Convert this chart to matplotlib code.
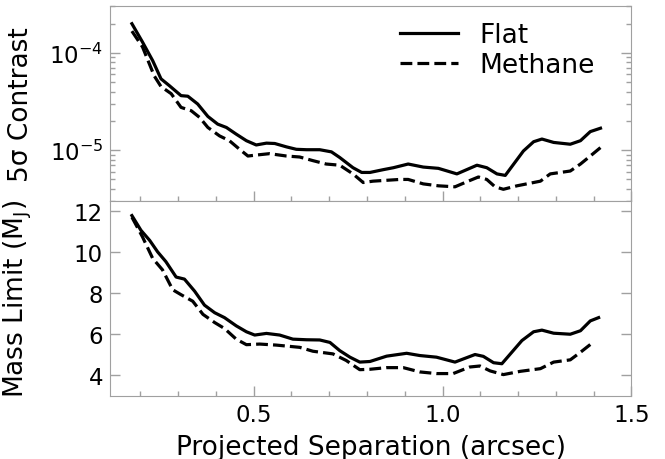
import matplotlib
matplotlib.use("Agg")
import matplotlib.pyplot as plt
from matplotlib.ticker import MultipleLocator, LogLocator, NullFormatter

# contrast curves (top panel)
sep_flat_c = [0.178, 0.206, 0.233, 0.255, 0.277, 0.308, 0.326, 0.352, 0.379, 0.405,
              0.428, 0.454, 0.481, 0.507, 0.534, 0.556, 0.587, 0.613, 0.640, 0.675,
              0.706, 0.728, 0.763, 0.786, 0.808, 0.843, 0.870, 0.909, 0.949, 0.989,
              1.038, 1.091, 1.117, 1.144, 1.166, 1.214, 1.241, 1.263, 1.294, 1.338,
              1.365, 1.391, 1.418]
flat_contrast = [1.99e-4, 1.29e-4, 8.3e-5, 5.4e-5, 4.6e-5, 3.63e-5, 3.58e-5, 2.98e-5, 2.22e-5, 1.85e-5,
                 1.71e-5, 1.46e-5, 1.25e-5, 1.13e-5, 1.18e-5, 1.17e-5, 1.08e-5, 1.02e-5, 1.01e-5, 1.01e-5,
                 9.6e-6, 8.4e-6, 6.6e-6, 5.9e-6, 5.9e-6, 6.3e-6, 6.6e-6, 7.2e-6, 6.7e-6, 6.5e-6,
                 5.7e-6, 7.0e-6, 6.6e-6, 5.7e-6, 5.5e-6, 9.8e-6, 1.22e-5, 1.30e-5, 1.20e-5, 1.15e-5,
                 1.25e-5, 1.55e-5, 1.68e-5]

sep_meth_c = [0.178, 0.206, 0.237, 0.255, 0.282, 0.308, 0.335, 0.357, 0.379, 0.410,
              0.436, 0.463, 0.485, 0.507, 0.542, 0.587, 0.622, 0.657, 0.692, 0.728,
              0.763, 0.790, 0.816, 0.852, 0.887, 0.909, 0.949, 0.989, 1.033, 1.068,
              1.095, 1.117, 1.139, 1.161, 1.197, 1.259, 1.285, 1.338, 1.365, 1.391,
              1.419]
meth_contrast = [1.67e-4, 1.15e-4, 5.8e-5, 4.5e-5, 3.8e-5, 2.75e-5, 2.54e-5, 2.17e-5, 1.71e-5, 1.40e-5,
                 1.25e-5, 1.02e-5, 8.7e-6, 8.9e-6, 9.2e-6, 8.7e-6, 8.5e-6, 7.8e-6, 7.2e-6, 7.0e-6,
                 5.7e-6, 4.65e-6, 4.8e-6, 4.9e-6, 5.0e-6, 5.0e-6, 4.5e-6, 4.3e-6, 4.2e-6, 4.8e-6,
                 5.3e-6, 5.0e-6, 4.2e-6, 3.96e-6, 4.3e-6, 4.8e-6, 5.7e-6, 6.1e-6, 7.2e-6, 8.7e-6,
                 1.07e-5]

# mass limits (bottom panel)
sep_flat_m = [0.178, 0.202, 0.225, 0.246, 0.268, 0.295, 0.317, 0.344, 0.370, 0.397,
              0.423, 0.454, 0.481, 0.503, 0.534, 0.569, 0.604, 0.640, 0.675, 0.702,
              0.728, 0.755, 0.781, 0.808, 0.852, 0.905, 0.940, 0.984, 1.033, 1.086,
              1.108, 1.135, 1.157, 1.210, 1.241, 1.263, 1.294, 1.338, 1.365, 1.391,
              1.413]
flat_mass = [11.79, 11.07, 10.58, 10.02, 9.54, 8.79, 8.69, 8.10, 7.42, 7.05,
             6.81, 6.41, 6.12, 5.96, 6.04, 5.96, 5.76, 5.73, 5.72, 5.60,
             5.20, 4.88, 4.64, 4.67, 4.93, 5.07, 4.96, 4.88, 4.64, 5.01,
             4.92, 4.61, 4.56, 5.69, 6.12, 6.20, 6.05, 6.00, 6.17, 6.65,
             6.81]

sep_meth_m = [0.178, 0.206, 0.233, 0.259, 0.286, 0.308, 0.339, 0.366, 0.397, 0.423,
              0.454, 0.481, 0.516, 0.560, 0.622, 0.657, 0.710, 0.745, 0.781, 0.808,
              0.852, 0.896, 0.940, 0.984, 1.028, 1.072, 1.099, 1.126, 1.161, 1.206,
              1.259, 1.294, 1.338, 1.365, 1.398]
meth_mass = [11.71, 10.75, 9.70, 9.14, 8.17, 7.93, 7.61, 6.97, 6.57, 6.28,
             5.76, 5.49, 5.52, 5.47, 5.36, 5.17, 5.04, 4.72, 4.27, 4.29,
             4.37, 4.37, 4.16, 4.08, 4.08, 4.40, 4.45, 4.21, 4.03, 4.19,
             4.32, 4.64, 4.75, 5.12, 5.60]

tick_fs = 16.5
label_fs = 19
edge = '#a0a0a0'
plt.rcParams['font.size'] = tick_fs

fig, (ax1, ax2) = plt.subplots(2, 1, figsize=(6.65, 4.6), dpi=100, sharex=True)
fig.subplots_adjust(left=0.1654, right=0.9496, top=0.984, bottom=0.1376, hspace=0)

ax1.plot(sep_flat_c, flat_contrast, color='k', lw=2.3, ls='-', label='Flat')
ax1.plot(sep_meth_c, meth_contrast, color='k', lw=2.3, ls='--', label='Methane')
ax1.set_yscale('log')
ax1.set_ylim(3e-6, 3e-4)
ax1.set_ylabel('5σ Contrast', fontsize=label_fs)
ax1.yaxis.set_minor_locator(LogLocator(base=10, subs=range(2, 10)))
ax1.yaxis.set_minor_formatter(NullFormatter())
ax1.legend(loc='upper right', bbox_to_anchor=(0.96, 1.0), frameon=False, fontsize=label_fs,
           handlelength=2.2, borderaxespad=0.2, labelspacing=0.15, handletextpad=0.8)

ax2.plot(sep_flat_m, flat_mass, color='k', lw=2.3, ls='-')
ax2.plot(sep_meth_m, meth_mass, color='k', lw=2.3, ls='--')
ax2.set_ylim(3, 12.5)
ax2.set_yticks([4, 6, 8, 10, 12])
ax2.set_ylabel(r'Mass Limit (M$_\mathrm{J}$)', fontsize=label_fs)
ax2.set_xlim(0.12, 1.5)
ax2.set_xticks([0.5, 1.0, 1.5])
ax2.xaxis.set_minor_locator(MultipleLocator(0.1))
ax2.set_xlabel('Projected Separation (arcsec)', fontsize=label_fs, labelpad=6)

for ax in (ax1, ax2):
    for sp in ax.spines.values():
        sp.set_color(edge)
    ax.tick_params(which='both', direction='in', right=True, top=False,
                   color=edge, labelcolor='k')
    ax.tick_params(which='major', length=7.5, width=1, pad=5)
    ax.tick_params(which='minor', length=3.5, width=1)
    ax.yaxis.set_label_coords(-0.145, 0.5)

fig.savefig('out.png', dpi=100)
